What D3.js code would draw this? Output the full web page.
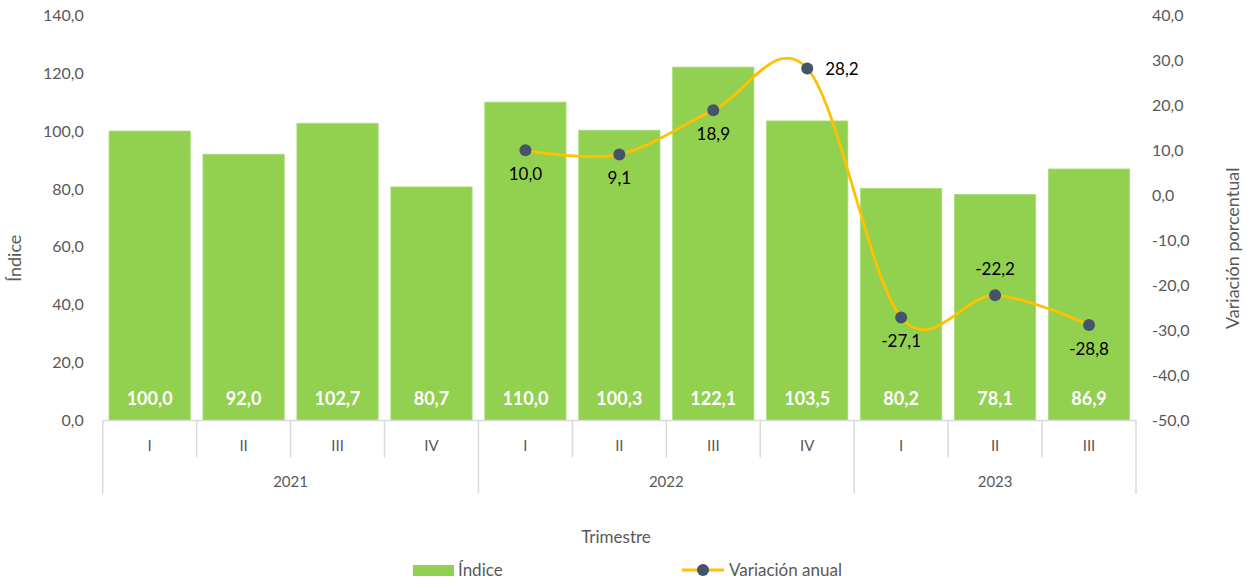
<!DOCTYPE html>
<html>
<head>
<meta charset="utf-8">
<script src="https://cdn.jsdelivr.net/npm/d3@7"></script>
<style>
  body { margin: 0; background: #fff; }
  text { font-family: Lato, "Open Sans", sans-serif; }
</style>
</head>
<body>
<div id="chart"></div>
<script>
// data
const years = ["2021", "2022", "2023"];
const quarters = ["I", "II", "III", "IV", "I", "II", "III", "IV", "I", "II", "III"];
const quarterYear = ["2021", "2021", "2021", "2021", "2022", "2022", "2022", "2022", "2023", "2023", "2023"];
const indice = [100.0, 92.0, 102.7, 80.7, 110.0, 100.3, 122.1, 103.5, 80.2, 78.1, 86.9];
const variacion = [null, null, null, null, 10.0, 9.1, 18.9, 28.2, -27.1, -22.2, -28.8];
const leftTicks = [0, 20, 40, 60, 80, 100, 120, 140];
const rightTicks = [-50, -40, -30, -20, -10, 0, 10, 20, 30, 40];
// where each line label sits relative to its point
const labelPlace = [null, null, null, null, "below", "below", "below", "right", "below", "above", "below"];

const W = 1247, H = 580;
const margin = {top: 15.3, right: 111, bottom: 159.5, left: 102.7};
const width = W - margin.left - margin.right;
const height = H - margin.top - margin.bottom;

const locale = d3.formatLocale({decimal: ",", thousands: ".", grouping: [3], currency: ["", ""], minus: "-"});
const fmt = locale.format(".1f");

const svg = d3.select("#chart").append("svg")
    .attr("width", W)
    .attr("height", H)
    .append("g")
    .attr("transform", `translate(${margin.left}, ${margin.top})`);

const x = d3.scaleBand()
    .domain(d3.range(indice.length))
    .range([0, width])
    .paddingInner(0.135)
    .paddingOuter(0.0675);

const y = d3.scaleLinear().domain([0, 140]).range([height, 0]);
const y2 = d3.scaleLinear().domain([-50, 40]).range([height, 0]);

// left axis labels
svg.append("g")
    .attr("class", "y-axis")
    .call(d3.axisLeft(y).tickValues(leftTicks).tickFormat(fmt).tickSize(0).tickPadding(19))
    .call(g => g.select(".domain").remove())
    .selectAll("text")
    .attr("fill", "#595959")
    .attr("font-size", "16px");

// right axis labels
svg.append("g")
    .attr("class", "y2-axis")
    .attr("transform", `translate(${width}, 0)`)
    .call(d3.axisRight(y2).tickValues(rightTicks).tickFormat(fmt).tickSize(0).tickPadding(16))
    .call(g => g.select(".domain").remove())
    .selectAll("text")
    .attr("fill", "#595959")
    .attr("font-size", "16px");

// bars
svg.selectAll(".bar")
    .data(indice)
    .enter().append("rect")
    .attr("class", "bar")
    .attr("x", (d, i) => x(i))
    .attr("y", d => y(d))
    .attr("width", x.bandwidth())
    .attr("height", d => height - y(d))
    .attr("fill", "#92D050")
    .attr("stroke", "#A9DC79")
    .attr("stroke-width", 0.8);

// bar labels
svg.selectAll(".bar-label")
    .data(indice)
    .enter().append("text")
    .attr("class", "bar-label")
    .attr("x", (d, i) => x(i) + x.bandwidth() / 2)
    .attr("y", height - 22)
    .attr("dy", "0.35em")
    .attr("text-anchor", "middle")
    .attr("fill", "#fff")
    .attr("font-weight", "bold")
    .attr("font-size", "18px")
    .text(d => fmt(d));

// category axis
const step = x.step();
const axis = svg.append("g").attr("class", "x-axis");
axis.append("line")
    .attr("x1", 0).attr("x2", width)
    .attr("y1", height).attr("y2", height)
    .attr("stroke", "#D9D9D9").attr("stroke-width", 1.5);

d3.range(quarters.length + 1).forEach(i => {
    const isYear = i === 0 || i === quarters.length || quarterYear[i] !== quarterYear[i - 1];
    axis.append("line")
        .attr("x1", i * step).attr("x2", i * step)
        .attr("y1", height).attr("y2", height + (isYear ? 73 : 37))
        .attr("stroke", "#D9D9D9").attr("stroke-width", 1.5);
});

axis.selectAll(".q-label")
    .data(quarters)
    .enter().append("text")
    .attr("x", (d, i) => x(i) + x.bandwidth() / 2)
    .attr("y", height + 25)
    .attr("dy", "0.35em")
    .attr("text-anchor", "middle")
    .attr("fill", "#595959")
    .attr("font-size", "15px")
    .text(d => d);

years.forEach(yr => {
    const idx = quarterYear.map((q, i) => q === yr ? i : -1).filter(i => i >= 0);
    const x0 = d3.min(idx) * step, x1 = (d3.max(idx) + 1) * step;
    axis.append("text")
        .attr("x", (x0 + x1) / 2)
        .attr("y", height + 61)
        .attr("dy", "0.35em")
        .attr("text-anchor", "middle")
        .attr("fill", "#595959")
        .attr("font-size", "15px")
        .text(yr);
});

// smoothed line
const linePts = variacion.map((v, i) => ({i, v})).filter(d => d.v !== null);
const line = d3.line()
    .x(d => x(d.i) + x.bandwidth() / 2)
    .y(d => y2(d.v))
    .curve(d3.curveCardinal.tension(0));

svg.append("path")
    .datum(linePts)
    .attr("d", line)
    .attr("fill", "none")
    .attr("stroke", "#FFC000")
    .attr("stroke-width", 2.8);

svg.selectAll(".dot")
    .data(linePts)
    .enter().append("circle")
    .attr("cx", d => x(d.i) + x.bandwidth() / 2)
    .attr("cy", d => y2(d.v))
    .attr("r", 6)
    .attr("fill", "#44546A");

svg.selectAll(".line-label")
    .data(linePts)
    .enter().append("text")
    .attr("x", d => x(d.i) + x.bandwidth() / 2 + (labelPlace[d.i] === "right" ? 18 : 0))
    .attr("y", d => y2(d.v) + (labelPlace[d.i] === "below" ? 24 : labelPlace[d.i] === "above" ? -26 : 1))
    .attr("dy", "0.35em")
    .attr("text-anchor", d => labelPlace[d.i] === "right" ? "start" : "middle")
    .attr("fill", "#000")
    .attr("font-size", "17px")
    .text(d => fmt(d.v));

// axis titles
svg.append("text")
    .attr("transform", "rotate(-90)")
    .attr("x", -243)
    .attr("y", -82)
    .attr("text-anchor", "middle")
    .attr("fill", "#595959")
    .attr("font-size", "18px")
    .text("Índice");

svg.append("text")
    .attr("transform", "rotate(-90)")
    .attr("x", -233)
    .attr("y", width + 103)
    .attr("text-anchor", "middle")
    .attr("fill", "#595959")
    .attr("font-size", "18px")
    .text("Variación porcentual");

svg.append("text")
    .attr("x", 616 - margin.left)
    .attr("y", 537 - margin.top)
    .attr("dy", "0.35em")
    .attr("text-anchor", "middle")
    .attr("fill", "#595959")
    .attr("font-size", "17px")
    .text("Trimestre");

// legend
const legend = d3.select("svg").append("g").attr("class", "legend");
legend.append("rect")
    .attr("x", 413).attr("y", 565)
    .attr("width", 41).attr("height", 11)
    .attr("fill", "#92D050");
legend.append("text")
    .attr("x", 458).attr("y", 570)
    .attr("dy", "0.35em")
    .attr("fill", "#595959")
    .attr("font-size", "17px")
    .text("Índice");
legend.append("line")
    .attr("x1", 682).attr("x2", 724)
    .attr("y1", 570).attr("y2", 570)
    .attr("stroke", "#FFC000").attr("stroke-width", 2.8);
legend.append("circle")
    .attr("cx", 703).attr("cy", 570).attr("r", 6)
    .attr("fill", "#44546A");
legend.append("text")
    .attr("x", 729).attr("y", 570)
    .attr("dy", "0.35em")
    .attr("fill", "#595959")
    .attr("font-size", "17px")
    .text("Variación anual");
</script>
</body>
</html>
